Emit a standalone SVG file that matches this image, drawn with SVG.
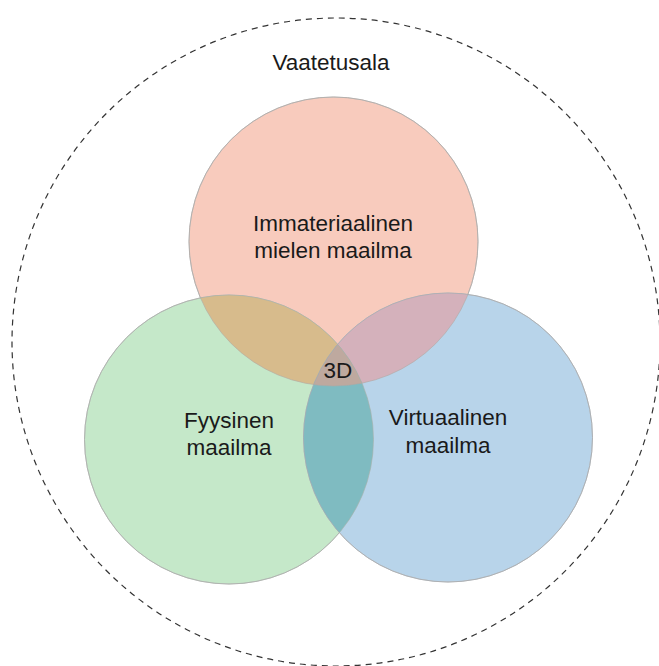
<svg xmlns="http://www.w3.org/2000/svg" width="659" height="666" viewBox="0 0 659 666">
<style>
.lbl{font-family:"Liberation Sans",Arial,sans-serif;font-size:22.5px;fill:#1a1a1a;text-anchor:middle}
.c{stroke:#bbbbbb;stroke-width:1}
</style>
<defs>
<clipPath id="cr"><circle cx="333.5" cy="241.5" r="144.5"/></clipPath>
<clipPath id="cg"><circle cx="229" cy="439.5" r="144.5"/></clipPath>
<clipPath id="cb"><circle cx="448" cy="437.5" r="144.5"/></clipPath>
</defs>
<rect width="659" height="666" fill="#ffffff"/>
<g id="outer">
<circle cx="336" cy="342" r="324" fill="none" stroke="#333333" stroke-width="1.2" stroke-dasharray="6 5"/>
<text class="lbl" x="331" y="70">Vaatetusala</text>
</g>
<g id="immaterial">
<circle class="c" cx="333.5" cy="241.5" r="144.5" fill="#f8cbbd"/>
</g>
<g id="physical">
<circle class="c" cx="229" cy="439.5" r="144.5" fill="#c5e8c9"/>
</g>
<g id="virtual">
<circle class="c" cx="448" cy="437.5" r="144.5" fill="#b8d4ea"/>
</g>
<g id="overlaps">
<g clip-path="url(#cr)"><circle cx="229" cy="439.5" r="144.5" fill="#d7bb8c"/></g>
<g clip-path="url(#cr)"><circle cx="448" cy="437.5" r="144.5" fill="#d4b1bb"/></g>
<g clip-path="url(#cg)"><circle cx="448" cy="437.5" r="144.5" fill="#7fbbc1"/></g>
<g clip-path="url(#cr)"><g clip-path="url(#cg)"><circle cx="448" cy="437.5" r="144.5" fill="#bea99f"/></g></g>
<circle cx="333.5" cy="241.5" r="144.5" fill="none" stroke="#b0a8a4" stroke-width="1" opacity="0.6"/>
<circle cx="229" cy="439.5" r="144.5" fill="none" stroke="#a8b0a8" stroke-width="1" opacity="0.6"/>
<circle cx="448" cy="437.5" r="144.5" fill="none" stroke="#a4aab0" stroke-width="1" opacity="0.6"/>
</g>
<g id="labels">
<text class="lbl" x="333" y="231">Immateriaalinen</text>
<text class="lbl" x="333" y="258">mielen maailma</text>
<text class="lbl" x="229" y="428">Fyysinen</text>
<text class="lbl" x="229" y="455">maailma</text>
<text class="lbl" x="448" y="425">Virtuaalinen</text>
<text class="lbl" x="448" y="453">maailma</text>
<text class="lbl" x="338" y="378">3D</text>
</g>
</svg>
